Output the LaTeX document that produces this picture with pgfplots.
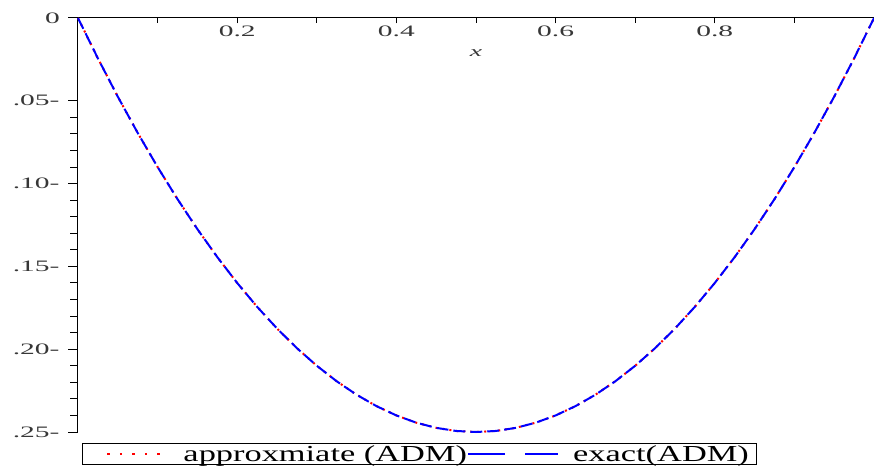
\documentclass[border=0pt]{standalone}
\usepackage{pgfplots}
\usepackage{pgfplotstable}
\pgfplotsset{compat=1.18}
\usepackage{fontspec}
\setmainfont{Liberation Serif}
\usepackage{graphicx}
\newcommand\sx[1]{\scalebox{1.85}[1]{#1}}
\newcommand\lx[1]{\scalebox{1.5}[1]{#1}}
\definecolor{tickgray}{RGB}{55,55,55}

\pgfplotstableread{
x y
0 0
0.025 -0.024375
0.05 -0.0475
0.075 -0.069375
0.1 -0.09
0.125 -0.109375
0.15 -0.1275
0.175 -0.144375
0.2 -0.16
0.225 -0.174375
0.25 -0.1875
0.275 -0.199375
0.3 -0.21
0.325 -0.219375
0.35 -0.2275
0.375 -0.234375
0.4 -0.24
0.425 -0.244375
0.45 -0.2475
0.475 -0.249375
0.5 -0.25
0.525 -0.249375
0.55 -0.2475
0.575 -0.244375
0.6 -0.24
0.625 -0.234375
0.65 -0.2275
0.675 -0.219375
0.7 -0.21
0.725 -0.199375
0.75 -0.1875
0.775 -0.174375
0.8 -0.16
0.825 -0.144375
0.85 -0.1275
0.875 -0.109375
0.9 -0.09
0.925 -0.069375
0.95 -0.0475
0.975 -0.024375
1 0
}\approxtab

\pgfplotstableread{
x y
0 0
0.025 -0.024375
0.05 -0.0475
0.075 -0.069375
0.1 -0.09
0.125 -0.109375
0.15 -0.1275
0.175 -0.144375
0.2 -0.16
0.225 -0.174375
0.25 -0.1875
0.275 -0.199375
0.3 -0.21
0.325 -0.219375
0.35 -0.2275
0.375 -0.234375
0.4 -0.24
0.425 -0.244375
0.45 -0.2475
0.475 -0.249375
0.5 -0.25
0.525 -0.249375
0.55 -0.2475
0.575 -0.244375
0.6 -0.24
0.625 -0.234375
0.65 -0.2275
0.675 -0.219375
0.7 -0.21
0.725 -0.199375
0.75 -0.1875
0.775 -0.174375
0.8 -0.16
0.825 -0.144375
0.85 -0.1275
0.875 -0.109375
0.9 -0.09
0.925 -0.069375
0.95 -0.0475
0.975 -0.024375
1 0
}\exacttab

\begin{document}
\begin{tikzpicture}
% x axis (top line at y = 0) with its own short ticks
\begin{axis}[
  scale only axis,
  width=796bp, height=414bp,
  xmin=0, xmax=1, ymin=-0.25, ymax=0,
  axis x line*=middle, axis y line=none,
  ytick=\empty,
  axis line style={line width=1bp, black},
  xtick={0.2,0.4,0.6,0.8},
  minor xtick={0.1,0.3,0.5,0.7,0.9},
  xticklabels={\sx{0.2},\sx{0.4},\sx{0.6},\sx{0.8}},
  x tick style={line width=1bp, black, yshift=-2.5bp},
  xtick align=center,
  major tick length=6bp, minor tick length=5bp,
  xticklabel style={font=\fontsize{16}{16}\selectfont, text=tickgray, anchor=north, yshift=-1bp},
  xlabel={\sx{\textit{x}}},
  xlabel style={at={(rel axis cs:0.5,1)}, anchor=center, yshift=-35bp, font=\fontsize{15}{15}\selectfont, text=tickgray},
]
\end{axis}
% y axis, curves and legend
\begin{axis}[
  scale only axis,
  width=796bp, height=414bp,
  xmin=0, xmax=1, ymin=-0.25, ymax=0,
  axis x line=none, axis y line*=left,
  axis line style={line width=1bp, black},
  ytick={-0.25,-0.2,-0.15,-0.1,-0.05},
  yticklabels={\sx{.25-},\sx{.20-},\sx{.15-},\sx{.10-},\sx{.05-}},
  extra y ticks={0},
  extra y tick labels={},
  minor y tick num=4,
  ytick align=outside,
  major tick length=10bp, minor tick length=8bp,
  y tick style={line width=1bp, black},
  yticklabel style={font=\fontsize{16}{16}\selectfont, text=tickgray, anchor=east, xshift=-5bp},
  legend columns=2,
  legend cell align=left,
  legend style={at={(rel axis cs:0,0)}, anchor=north west, xshift=4bp, yshift=-11bp,
    draw=black, line width=1bp, inner xsep=8bp, inner ysep=2bp,
    font=\fontsize{23}{23}\selectfont,
    nodes={inner sep=0bp},
    /tikz/every odd column/.append style={column sep=0bp},
    /tikz/every even column/.append style={column sep=0bp}},
  clip=false,
]
\addplot[red, line width=2bp, dash pattern=on 2bp off 5bp,
  legend image code/.code={\path[draw=none] (0bp,-5bp) rectangle (93bp,5bp);
    \draw[red, line width=2.5bp, dash pattern=on 2.5bp off 10bp] (17bp,0bp)--(70bp,0bp);}]
  table[x=x,y=y] {\approxtab};
\addlegendentry{\lx{approxmiate (ADM)}}
\addplot[blue, line width=2bp, dash pattern=on 12bp off 5bp,
  legend image code/.code={\path[draw=none] (0bp,-5bp) rectangle (106bp,5bp);
    \draw[blue, line width=2.5bp, dash pattern=on 37bp off 20bp] (1bp,0bp)--(91bp,0bp);}]
  table[x=x,y=y] {\exacttab};
\addlegendentry{\lx{exact(ADM)}}
\coordinate (sw) at (rel axis cs:0,0);
\node[anchor=east, font=\fontsize{16}{16}\selectfont, text=tickgray, inner sep=0pt] at (rel axis cs:0,1) [xshift=-18bp] {\sx{0}};
\end{axis}
\pgfresetboundingbox
\path (sw) ++(-78bp,-38bp) rectangle ++(874bp,470bp);
\end{tikzpicture}
\end{document}
